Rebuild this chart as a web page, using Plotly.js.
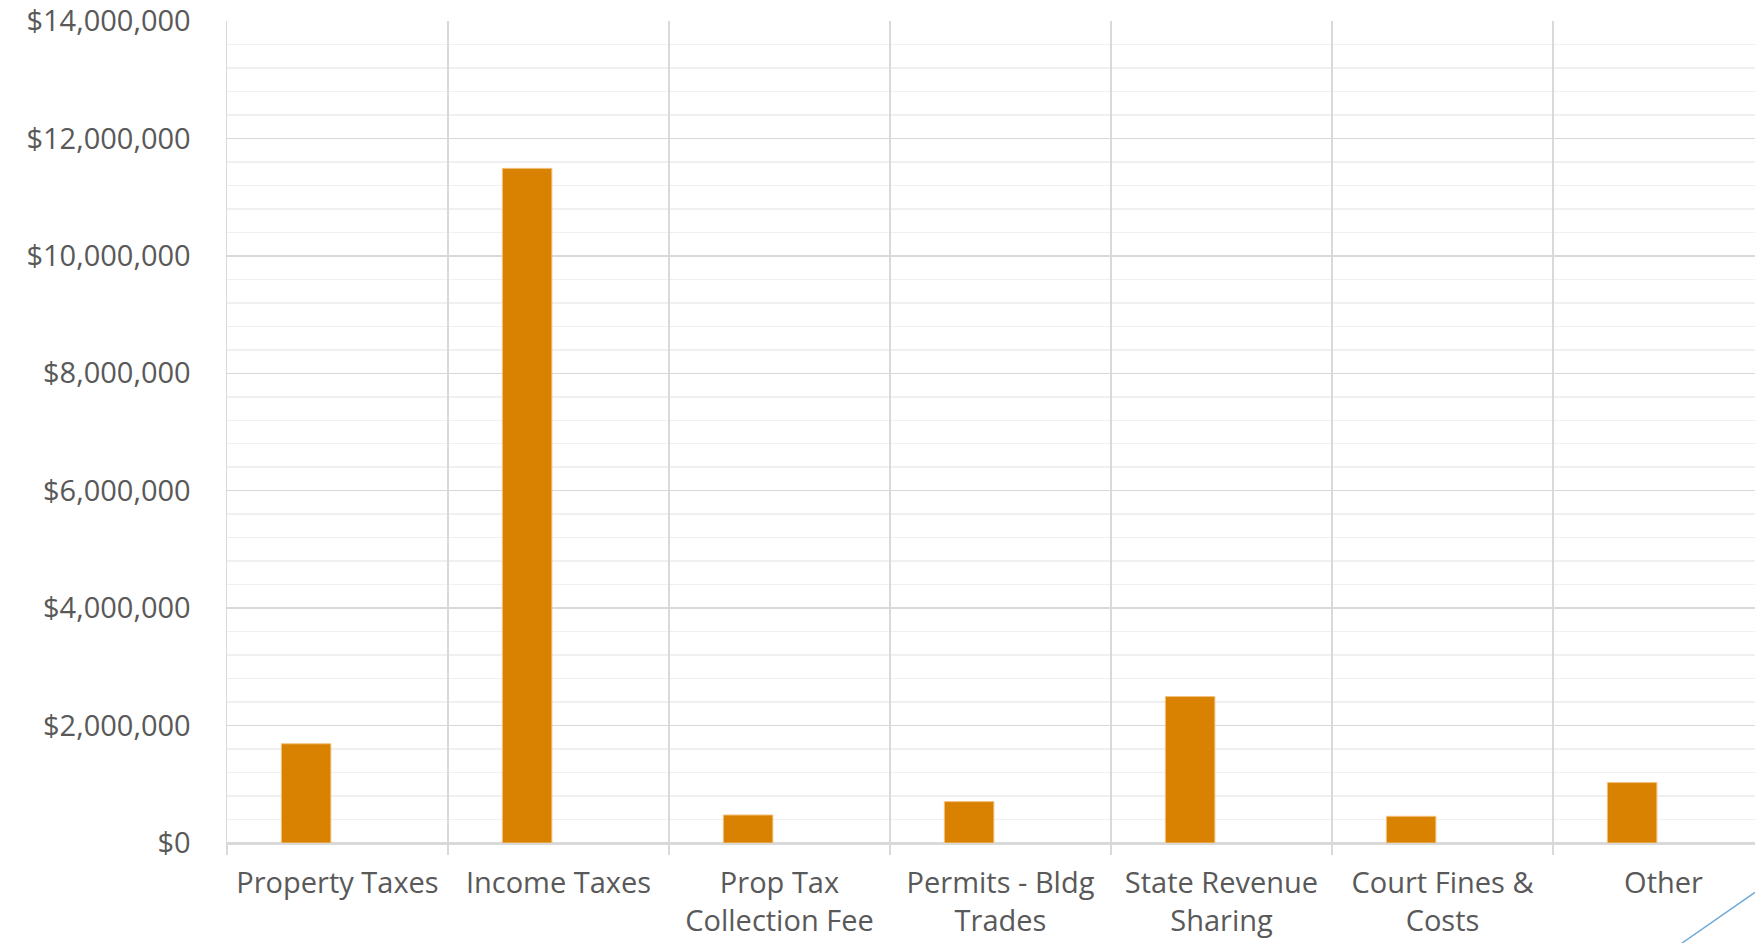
<!DOCTYPE html>
<html>
<head>
<meta charset="utf-8">
<script src="https://cdn.plot.ly/plotly-3.0.1.min.js"></script>
<style>
  html, body { margin: 0; padding: 0; background: #ffffff; }
  #chart { width: 1755px; height: 943px; }
</style>
</head>
<body>
<div id="chart"></div>
<script>
const categories = [
  "Property Taxes",
  "Income Taxes",
  "Prop Tax<br>Collection Fee",
  "Permits - Bldg<br>Trades",
  "State Revenue<br>Sharing",
  "Court Fines &amp;<br>Costs",
  "Other"
];
const revenue = [1690000, 11490000, 477000, 705000, 2494000, 455000, 1029000];

const trace = {
  type: "bar",
  x: categories,
  y: revenue,
  width: 0.224,
  offset: -0.254,
  marker: { color: "#D98100", line: { color: "#F2C27E", width: 1 } },
  hoverinfo: "x+y"
};

const layout = {
  width: 1755,
  height: 943,
  margin: { l: 227, r: 0, t: 21, b: 100, pad: 0 },
  paper_bgcolor: "#ffffff",
  plot_bgcolor: "#ffffff",
  showlegend: false,
  font: { family: "Open Sans, Noto Sans, sans-serif", size: 29, color: "#595959" },
  xaxis: {
    type: "category",
    range: [-0.5, 6.414],
    tickson: "boundaries",
    showgrid: true,
    gridcolor: "#d9d9d9",
    gridwidth: 1.5,
    ticks: "outside",
    ticklen: 10,
    tickcolor: "#d9d9d9",
    tickwidth: 1.5,
    ticklabelstandoff: 14,
    showline: true,
    linecolor: "#d9d9d9",
    linewidth: 1.5,
    tickfont: { size: 29, color: "#595959" },
    fixedrange: true
  },
  yaxis: {
    range: [0, 14000000],
    dtick: 2000000,
    tick0: 0,
    tickprefix: "$",
    tickformat: ",.0f",
    showgrid: true,
    gridcolor: "#d9d9d9",
    gridwidth: 1.5,
    zeroline: true,
    zerolinecolor: "#d9d9d9",
    zerolinewidth: 1.5,
    showline: true,
    linecolor: "#d9d9d9",
    linewidth: 1.5,
    ticks: "outside",
    ticklen: 29,
    tickcolor: "rgba(0,0,0,0)",
    tickfont: { size: 29, color: "#595959" },
    minor: { dtick: 400000, showgrid: true, gridcolor: "#f0f0f0", gridwidth: 1.5 },
    fixedrange: true
  },
  shapes: [
    {
      type: "line",
      xref: "paper", yref: "paper",
      x0: 0.952, y0: -0.122, x1: 1.0, y1: -0.06,
      line: { color: "#6fa8d6", width: 1.5 }
    }
  ]
};

Plotly.newPlot("chart", [trace], layout, { displayModeBar: false, staticPlot: true });
</script>
</body>
</html>
